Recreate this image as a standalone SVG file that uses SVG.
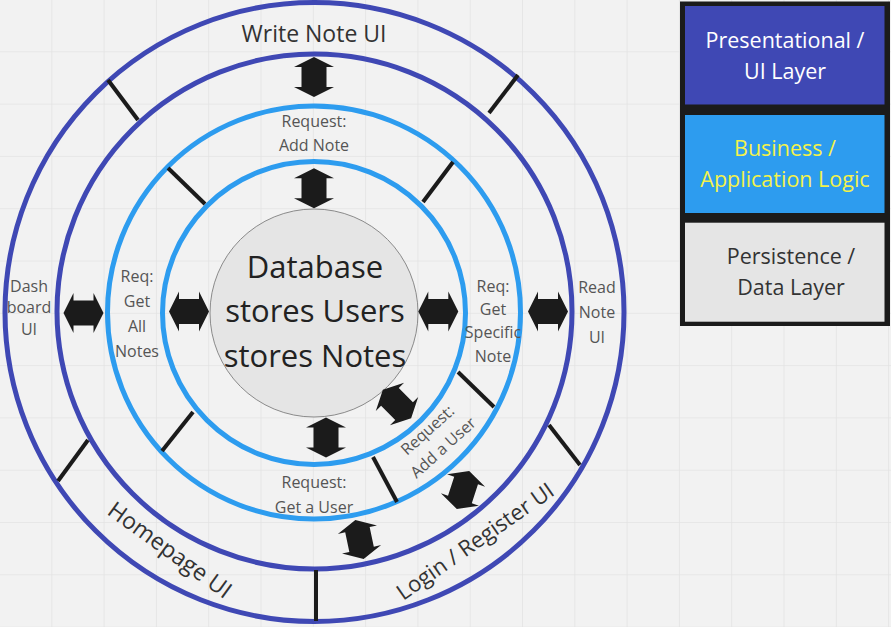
<svg xmlns="http://www.w3.org/2000/svg" width="891" height="627" viewBox="0 0 891 627">
<defs>
<pattern id="grid" x="0" y="0" width="52.3" height="52.3" patternUnits="userSpaceOnUse">
<path d="M52.3 0V52.3M0 52.3H52.3" fill="none" stroke="#e3e3e3" stroke-width="1.5"/>
</pattern>
<path id="arr" d="M0,-20 L20,-10 L12.5,-10 L12.5,10 L20,10 L0,20 L-20,10 L-12.5,10 L-12.5,-10 L-20,-10 Z" fill="#1b1b1b"/>
<style>
.dark{fill:none;stroke:#3f48b4;stroke-width:5}
.light{fill:none;stroke:#2d9cef;stroke-width:5}
.spoke{stroke:#1b1b1b;stroke-width:4;stroke-linecap:butt}
text{font-family:"Open Sans","Noto Sans","Liberation Sans",sans-serif;text-anchor:middle}
.ui{font-size:23px;fill:#333}
.sm{font-size:16px;fill:#555}
.db{font-size:31px;fill:#222}
.lg{font-size:21.5px}
</style>
</defs>
<rect width="891" height="627" fill="#f2f2f2"/>
<rect width="891" height="627" fill="url(#grid)"/>

<g id="ui-layer">
<circle class="dark" cx="314.5" cy="312" r="309.5"/>
<circle class="dark" cx="314.5" cy="311.5" r="257.5"/>
<text class="ui" x="314" y="41.5">Write Note UI</text>
<text class="sm"><tspan x="29" y="291.5">Dash</tspan><tspan x="29" y="313">board</tspan><tspan x="29" y="334.5">UI</tspan></text>
<text class="sm"><tspan x="597" y="293.3">Read</tspan><tspan x="597" y="318.3">Note</tspan><tspan x="597" y="343.3">UI</tspan></text>
<text class="ui" transform="rotate(36 170 550)" x="170" y="558">Homepage UI</text>
<text class="ui" style="font-size:22px" transform="rotate(-35 475 541)" x="475" y="549">Login / Register UI</text>
</g>

<g id="business-layer">
<circle class="light" cx="314" cy="312.5" r="206.5"/>
<circle class="light" cx="314" cy="313" r="151.5"/>
<text class="sm"><tspan x="314" y="127.3">Request:</tspan><tspan x="314" y="150.8">Add Note</tspan></text>
<text class="sm"><tspan x="137" y="281.7">Req:</tspan><tspan x="137" y="306.7">Get</tspan><tspan x="137" y="331.7">All</tspan><tspan x="137" y="356.7">Notes</tspan></text>
<text class="sm"><tspan x="493" y="291.7">Req:</tspan><tspan x="493" y="314.5">Get</tspan><tspan x="493" y="338">Specific</tspan><tspan x="493" y="361.7">Note</tspan></text>
<text class="sm"><tspan x="314" y="488.3">Request:</tspan><tspan x="314" y="513">Get a User</tspan></text>
<text class="sm" transform="rotate(-42 435.5 439)"><tspan x="435.5" y="432.6">Request:</tspan><tspan x="435.5" y="456">Add a User</tspan></text>
</g>

<g id="database">
<circle cx="314" cy="313" r="104" fill="#e5e5e5" stroke="#8a8a8a" stroke-width="1"/>
<text class="db"><tspan x="315" y="278.3">Database</tspan><tspan x="315" y="322">stores Users</tspan><tspan x="315" y="366.7">stores Notes</tspan></text>
</g>

<g id="connectors">
<line class="spoke" x1="108" y1="80" x2="138" y2="120"/>
<line class="spoke" x1="518" y1="75" x2="489" y2="113"/>
<line class="spoke" x1="549" y1="425" x2="580" y2="465"/>
<line class="spoke" x1="88" y1="440" x2="58" y2="481"/>
<line class="spoke" x1="316" y1="570" x2="316" y2="621"/>
<line class="spoke" x1="168" y1="168" x2="205" y2="204"/>
<line class="spoke" x1="453" y1="162" x2="423" y2="202"/>
<line class="spoke" x1="193" y1="412" x2="162" y2="451"/>
<line class="spoke" x1="458" y1="372" x2="494" y2="407"/>
<line class="spoke" x1="373" y1="457" x2="397" y2="502"/>
<use href="#arr" transform="translate(314 77)"/>
<use href="#arr" transform="translate(314 188.3)"/>
<use href="#arr" transform="translate(83.5 313) rotate(90)"/>
<use href="#arr" transform="translate(189 311.5) rotate(90)"/>
<use href="#arr" transform="translate(438.3 311.5) rotate(90)"/>
<use href="#arr" transform="translate(548 311.5) rotate(90)"/>
<use href="#arr" transform="translate(326 437.5)"/>
<use href="#arr" transform="translate(397 404) rotate(-45)"/>
<use href="#arr" transform="translate(463 490) rotate(18)"/>
<use href="#arr" transform="translate(359.5 539.5) rotate(-12)"/>
</g>

<g id="legend">
<rect x="680" y="1.5" width="210" height="324.5" fill="#1b1b1b"/>
<g id="legend-ui">
<rect x="685" y="6" width="199.5" height="98.5" fill="#3f48b4"/>
<text class="lg" fill="#ffffff"><tspan x="785" y="48.3">Presentational /</tspan><tspan x="785" y="79">UI Layer</tspan></text>
</g>
<g id="legend-business">
<rect x="685" y="115" width="199.5" height="98" fill="#2d9cef"/>
<text class="lg" fill="#f4f24a"><tspan x="785" y="156">Business /</tspan><tspan x="785" y="186.7">Application Logic</tspan></text>
</g>
<g id="legend-data">
<rect x="685" y="222.7" width="199.5" height="99" fill="#e5e5e5"/>
<text class="lg" fill="#333"><tspan x="791" y="264">Persistence /</tspan><tspan x="791" y="295">Data Layer</tspan></text>
</g>
</g>
</svg>
